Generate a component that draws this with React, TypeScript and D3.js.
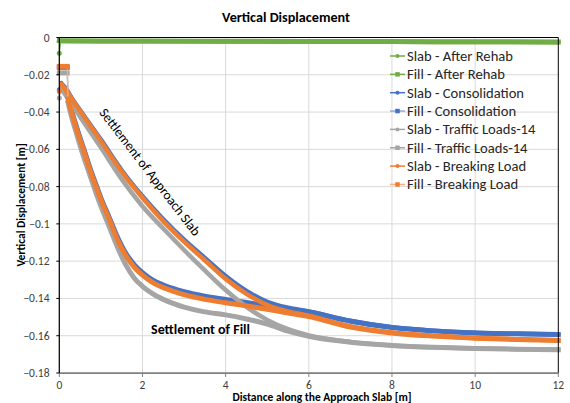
import React from 'react';
import * as d3 from 'd3';

// after rehab (nearly flat, near zero)
const xRehab = [0, 0.05, 1, 2, 4, 6, 8, 10, 12];
const slabAfterRehab = [-0.0084, -0.0019, -0.002, -0.002, -0.0021, -0.0022, -0.0023, -0.0024, -0.0025];
const fillAfterRehab = [-0.0017, -0.0018, -0.0019, -0.0019, -0.002, -0.0021, -0.0022, -0.0023, -0.0024];

// slab curves
const xSlab = [0, 0.05, 0.5, 1, 1.5, 2, 2.5, 3, 3.5, 4, 4.5, 5, 5.5, 6, 7, 8, 9, 10, 11, 12];
const slabConsolidation = [-0.028, -0.0245, -0.039, -0.0548, -0.0712, -0.0852, -0.0975, -0.1085, -0.1183, -0.128, -0.136, -0.1418, -0.145, -0.147, -0.152, -0.1555, -0.1573, -0.1584, -0.159, -0.1593];
const slabTraffic = [-0.0325, -0.0275, -0.0425, -0.059, -0.076, -0.0905, -0.1025, -0.114, -0.125, -0.1355, -0.1445, -0.1515, -0.1565, -0.1598, -0.1633, -0.1652, -0.1662, -0.1668, -0.1672, -0.1674];
const slabBreaking = [-0.029, -0.025, -0.0395, -0.0555, -0.072, -0.086, -0.0985, -0.1095, -0.1195, -0.1295, -0.1375, -0.1435, -0.147, -0.1493, -0.155, -0.1582, -0.16, -0.1612, -0.1619, -0.1624];

// fill curves
const xFill = [0, 0.1, 0.19, 0.21, 0.3, 0.4, 0.5, 0.6, 0.7, 0.8, 0.9, 1.0, 1.2, 1.4, 1.6, 1.8, 2.0, 2.25, 2.5, 2.75, 3.0, 3.5, 4, 4.5, 5, 5.5, 6, 7, 8, 9, 10, 11, 12];
const fillConsolidation = [-0.016, -0.016, -0.016, -0.032, -0.0395, -0.047, -0.054, -0.0605, -0.0675, -0.074, -0.08, -0.086, -0.0965, -0.1072, -0.1158, -0.1218, -0.1262, -0.1302, -0.1328, -0.1348, -0.1364, -0.1388, -0.1405, -0.1422, -0.144, -0.1457, -0.1473, -0.1522, -0.1556, -0.1574, -0.1585, -0.159, -0.1594];
const fillTraffic = [-0.019, -0.019, -0.019, -0.035, -0.043, -0.0505, -0.058, -0.065, -0.0715, -0.078, -0.0845, -0.0905, -0.1015, -0.1125, -0.122, -0.129, -0.1335, -0.1375, -0.1405, -0.1428, -0.1447, -0.1472, -0.1488, -0.151, -0.1537, -0.1575, -0.1603, -0.1635, -0.1652, -0.1662, -0.1668, -0.1672, -0.1675];
const fillBreaking = [-0.0155, -0.0155, -0.0155, -0.033, -0.0405, -0.048, -0.055, -0.0615, -0.0685, -0.075, -0.081, -0.087, -0.0975, -0.1085, -0.117, -0.1232, -0.1275, -0.1315, -0.1342, -0.1362, -0.138, -0.1405, -0.1423, -0.144, -0.1458, -0.1478, -0.1497, -0.1553, -0.1585, -0.1602, -0.1613, -0.162, -0.1625];

const xTicks = [0, 2, 4, 6, 8, 10, 12];
const yTicks = [0, -0.02, -0.04, -0.06, -0.08, -0.1, -0.12, -0.14, -0.16, -0.18];

const seriesNames = [
  'Slab - After Rehab', 'Fill - After Rehab',
  'Slab - Consolidation', 'Fill - Consolidation',
  'Slab - Traffic Loads-14', 'Fill - Traffic Loads-14',
  'Slab - Breaking Load', 'Fill - Breaking Load',
];
const markerColors = ['#70AD47', '#70AD47', '#4472C4', '#4472C4', '#A5A5A5', '#A5A5A5', '#ED7D31', '#ED7D31'];
const lineColors = ['#70AD47', '#70AD47', '#4472C4', '#8FAADC', '#A5A5A5', '#A5A5A5', '#ED7D31', '#F4B183'];

const W = 570;
const H = 403;
const FONT = 'Carlito, Calibri, Lato, sans-serif';

const x = d3.scaleLinear().domain([0, 12]).range([59.3, 558.3]);
const y = d3.scaleLinear().domain([-0.18, 0]).range([373, 37.5]);

type Series = {
  name: string;
  xs: number[];
  ys: number[];
  marker: 'circle' | 'square';
  // index ranges drawn as thick marker bands
  bands: [number, number][];
};

const series: Series[] = [
  { name: seriesNames[0], xs: xRehab, ys: slabAfterRehab, marker: 'circle', bands: [[1, xRehab.length - 1]] },
  { name: seriesNames[1], xs: xRehab, ys: fillAfterRehab, marker: 'square', bands: [[0, xRehab.length - 1]] },
  { name: seriesNames[2], xs: xSlab, ys: slabConsolidation, marker: 'circle', bands: [[1, xSlab.length - 1]] },
  { name: seriesNames[3], xs: xFill, ys: fillConsolidation, marker: 'square', bands: [[0, 2], [3, xFill.length - 1]] },
  { name: seriesNames[4], xs: xSlab, ys: slabTraffic, marker: 'circle', bands: [[1, xSlab.length - 1]] },
  { name: seriesNames[5], xs: xFill, ys: fillTraffic, marker: 'square', bands: [[0, 2], [3, xFill.length - 1]] },
  { name: seriesNames[6], xs: xSlab, ys: slabBreaking, marker: 'circle', bands: [[1, xSlab.length - 1]] },
  { name: seriesNames[7], xs: xFill, ys: fillBreaking, marker: 'square', bands: [[0, 2], [3, xFill.length - 1]] },
];

const line = d3.line<[number, number]>()
  .x(d => x(d[0]))
  .y(d => y(d[1]))
  .curve(d3.curveMonotoneX);

const Marker = ({ kind, cx, cy, color, size }: { kind: string; cx: number; cy: number; color: string; size: number }) =>
  kind === 'circle'
    ? <circle cx={cx} cy={cy} r={size / 2} fill={color} />
    : <rect x={cx - size / 2} y={cy - size / 2} width={size} height={size} fill={color} />;

export default function App() {
  const [x0, x1] = x.range();
  const yTop = y(0);
  const yBot = y(-0.18);

  return (
    <svg width={W} height={H} style={{ position: 'absolute', left: 0, top: 0, background: '#fff' }} fontFamily={FONT}>
      <rect width={W} height={H} fill="#fff" />

      {/* title */}
      <text x={286} y={22} textAnchor="middle" fontSize={14.2} fontWeight="bold" fill="#000">Vertical Displacement</text>

      {/* gridlines */}
      {xTicks.slice(1, -1).map(t => (
        <line key={'gx' + t} x1={x(t)} x2={x(t)} y1={yTop} y2={yBot} stroke="#D9D9D9" strokeWidth={1} />
      ))}
      {yTicks.slice(1, -1).map(t => (
        <line key={'gy' + t} x1={x0} x2={x1} y1={y(t)} y2={y(t)} stroke="#D9D9D9" strokeWidth={1} />
      ))}

      {/* series */}
      {series.map((s, i) => {
        const pts = s.xs.map((v, k) => [v, s.ys[k]] as [number, number]);
        const bandW = s.marker === 'square' ? 5 : 4.5;
        return (
          <g key={s.name}>
            <path d={line(pts) || ''} fill="none" stroke={lineColors[i]} strokeWidth={1.25} />
            {s.bands.map(([a, b], j) => (
              <path key={j} d={line(pts.slice(a, b + 1)) || ''} fill="none" stroke={markerColors[i]}
                strokeWidth={bandW} strokeLinecap={s.marker === 'square' ? 'square' : 'round'} strokeLinejoin="round" />
            ))}
            {s.bands[0][0] > 0 && (
              <Marker kind={s.marker} cx={x(pts[0][0])} cy={y(pts[0][1])} color={markerColors[i]} size={5} />
            )}
          </g>
        );
      })}

      {/* plot frame */}
      <line x1={x0} x2={x1} y1={yTop} y2={yTop} stroke="#000" strokeWidth={1} />
      <line x1={x1} x2={x1} y1={yTop} y2={yBot} stroke="#000" strokeWidth={1} />
      <line x1={x0} x2={x1} y1={yBot} y2={yBot} stroke="#808080" strokeWidth={1.75} />
      {xTicks.map(t => (
        <line key={'tx' + t} x1={x(t)} x2={x(t)} y1={yBot} y2={yBot + 4} stroke="#808080" strokeWidth={1} />
      ))}
      <line x1={x0} x2={x0} y1={yTop} y2={yBot} stroke="#000" strokeWidth={1.25} />
      {yTicks.map(t => (
        <line key={'ty' + t} x1={x0 - 3} x2={x0} y1={y(t)} y2={y(t)} stroke="#000" strokeWidth={1} />
      ))}

      {/* tick labels */}
      {xTicks.map(t => (
        <text key={'lx' + t} x={x(t)} y={388.5} textAnchor="middle" fontSize={11.5} fill="#404040">{t}</text>
      ))}
      {yTicks.map(t => (
        <text key={'ly' + t} x={49.5} y={y(t) + 4} textAnchor="end" fontSize={11.5} fill="#404040">{t === 0 ? '0' : d3.format('')(t)}</text>
      ))}

      {/* axis titles */}
      <text x={322} y={401} textAnchor="middle" fontSize={11.5} fontWeight="bold" fill="#000">Distance along the Approach Slab [m]</text>
      <text transform="translate(24.5,205) rotate(-90)" textAnchor="middle" fontSize={11.5} fontWeight="bold" fill="#000">Vertical Displacement [m]</text>

      {/* annotations */}
      <text transform="translate(150,172) rotate(52.5)" textAnchor="middle" dominantBaseline="central" fontSize={13.5} fill="#000">Settlement of Approach Slab</text>
      <text x={200.5} y={334} textAnchor="middle" fontSize={14} fontWeight="bold" fill="#000">Settlement of Fill</text>

      {/* legend */}
      {seriesNames.map((n, i) => {
        const ly = 56 + i * 18.35;
        return (
          <g key={'lg' + n}>
            <line x1={390} x2={405} y1={ly} y2={ly} stroke={lineColors[i]} strokeWidth={1.5} />
            <Marker kind={series[i].marker} cx={397.5} cy={ly} color={markerColors[i]} size={series[i].marker === 'circle' ? 4 : 4.5} />
            <text x={407} y={ly + 5} fontSize={14.6} fill="#262626">{n}</text>
          </g>
        );
      })}
    </svg>
  );
}
